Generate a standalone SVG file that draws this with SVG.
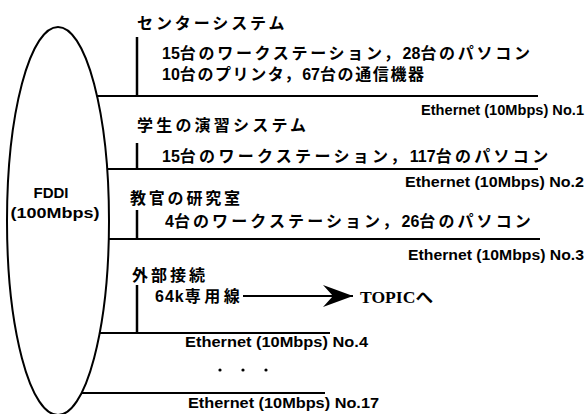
<svg xmlns="http://www.w3.org/2000/svg" width="586" height="414" viewBox="0 0 586 414">
<style>
.bg{fill:#fff}
.ln{stroke:#000;stroke-width:2;fill:none}
.tk{stroke:#000;stroke-width:2.5;fill:none}
.jp{font-family:"Liberation Sans","Noto Sans CJK JP",sans-serif;font-size:16px;font-weight:700;fill:#000}
.d{letter-spacing:0}
.en{font-family:"Liberation Sans",Arial,sans-serif;font-size:14px;font-weight:700;fill:#000}
.fd{font-family:"Liberation Sans",Arial,sans-serif;font-size:15px;font-weight:700;fill:#000;text-anchor:middle}
.sf{font-family:"Liberation Serif","Noto Sans CJK JP",serif;font-size:16px;font-weight:700;fill:#000}
</style>
<defs>
<marker id="ah" markerUnits="userSpaceOnUse" markerWidth="32" markerHeight="26" refX="30" refY="12" orient="auto">
<path d="M0,1 L30,12 L0,23 L10,12 Z" fill="#000"/>
</marker>
</defs>
<rect class="bg" x="0" y="0" width="586" height="414"/>
<g id="fddi">
<ellipse class="ln" cx="58" cy="221" rx="51" ry="194"/>
<text class="fd" x="51" y="198" textLength="35" lengthAdjust="spacingAndGlyphs">FDDI</text>
<text class="fd" x="55" y="218" textLength="89" lengthAdjust="spacingAndGlyphs">(100Mbps)</text>
</g>
<g id="connectors">
<line class="ln" x1="97" y1="96" x2="538" y2="96"/>
<line class="ln" x1="107" y1="169" x2="538" y2="169"/>
<line class="ln" x1="109" y1="239" x2="540" y2="239"/>
<line class="ln" x1="99" y1="333" x2="330" y2="333"/>
<line class="ln" x1="82" y1="393" x2="325" y2="393"/>
<line class="tk" x1="137" y1="37" x2="137" y2="96"/>
<line class="tk" x1="137" y1="143" x2="137" y2="169"/>
<line class="tk" x1="137" y1="210" x2="137" y2="239"/>
<line class="tk" x1="137" y1="285" x2="137" y2="333"/>
<line class="ln" x1="243" y1="296" x2="353" y2="296" marker-end="url(#ah)"/>
</g>
<g id="center-system">
<text class="jp" x="137" y="29" style="letter-spacing:2.9px">センターシステム</text>
<text class="jp" x="162" y="59" style="letter-spacing:2.7px"><tspan class="d">15</tspan>台のワークステーション，<tspan class="d">28</tspan>台のパソコン</text>
<text class="jp" x="162" y="80" style="letter-spacing:1.6px"><tspan class="d">10</tspan>台のプリンタ，<tspan class="d">67</tspan>台の通信機器</text>
</g>
<g id="ethernet-1"><text class="en" x="421" y="115" textLength="163" lengthAdjust="spacingAndGlyphs">Ethernet (10Mbps) No.1</text></g>
<g id="student-system">
<text class="jp" x="137" y="131" style="letter-spacing:3.2px">学生の演習システム</text>
<text class="jp" x="162" y="162" style="letter-spacing:3.3px"><tspan class="d">15</tspan>台のワークステーション，<tspan class="d">117</tspan>台のパソコン</text>
</g>
<g id="ethernet-2"><text class="en" x="405" y="187" textLength="179" lengthAdjust="spacingAndGlyphs">Ethernet (10Mbps) No.2</text></g>
<g id="faculty-lab">
<text class="jp" x="130" y="204" style="letter-spacing:2.8px">教官の研究室</text>
<text class="jp" x="165" y="227" style="letter-spacing:3.1px"><tspan class="d">4</tspan>台のワークステーション，<tspan class="d">26</tspan>台のパソコン</text>
</g>
<g id="ethernet-3"><text class="en" x="408" y="260" textLength="176" lengthAdjust="spacingAndGlyphs">Ethernet (10Mbps) No.3</text></g>
<g id="external">
<text class="jp" x="132" y="281" style="letter-spacing:3px">外部接続</text>
<text class="jp" x="155" y="302" style="letter-spacing:3.5px"><tspan style="letter-spacing:1px">64k</tspan>専用線</text>
</g>
<g id="topic"><text class="sf" x="360" y="303" textLength="73" lengthAdjust="spacingAndGlyphs">TOPICへ</text></g>
<g id="ethernet-4"><text class="en" x="185" y="347" textLength="183" lengthAdjust="spacingAndGlyphs">Ethernet (10Mbps) No.4</text></g>
<g id="dots">
<circle cx="220" cy="370" r="1.6" fill="#000"/>
<circle cx="243" cy="370" r="1.6" fill="#000"/>
<circle cx="266" cy="370" r="1.6" fill="#000"/>
</g>
<g id="ethernet-17"><text class="en" x="188" y="408" textLength="191" lengthAdjust="spacingAndGlyphs">Ethernet (10Mbps) No.17</text></g>
</svg>
